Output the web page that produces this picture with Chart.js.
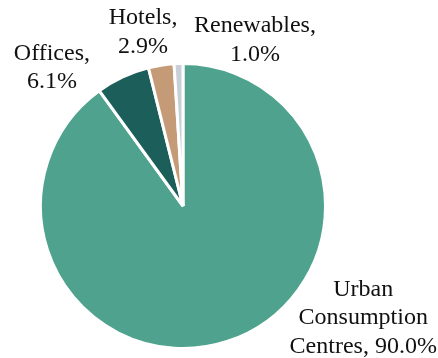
<!DOCTYPE html>
<html>
<head>
<meta charset="utf-8">
<script src="https://cdn.jsdelivr.net/npm/chart.js@4.4.0/dist/chart.umd.min.js"></script>
<style>
  html, body { margin: 0; padding: 0; background: #fff; }
  #wrap { width: 438px; height: 358px; }
</style>
</head>
<body>
<div id="wrap"><canvas id="pieChart" width="438" height="358"></canvas></div>
<script>
const categories = ["Urban Consumption Centres", "Offices", "Hotels", "Renewables"];
const shares = [90.0, 6.1, 2.9, 1.0];
const labelLines = [
  ["Urban", "Consumption", "Centres, 90.0%"],
  ["Offices,", "6.1%"],
  ["Hotels,", "2.9%"],
  ["Renewables,", "1.0%"]
];
const sliceColors = ["#4fa38e", "#1b5e5a", "#c49b76", "#c9cfd9"];

// label anchor offsets from pie centre, in units of the radius
const labelOffsets = [
  [1.265, 0.585],
  [-0.92, -1.07],
  [-0.28, -1.32],
  [0.505, -1.265]
];

const outsideLabels = {
  id: "outsideLabels",
  afterDraw(chart) {
    const arcs = chart.getDatasetMeta(0).data;
    if (!arcs.length) return;
    const cx = arcs[0].x, cy = arcs[0].y, r = arcs[0].outerRadius;
    const ctx = chart.ctx;
    ctx.save();
    ctx.font = '24px "Liberation Serif", "Times New Roman", serif';
    ctx.fillStyle = "#111";
    ctx.textAlign = "center";
    ctx.textBaseline = "middle";
    const lh = 28.5;
    labelLines.forEach((lines, i) => {
      const x = cx + labelOffsets[i][0] * r;
      const y0 = cy + labelOffsets[i][1] * r;
      lines.forEach((t, j) => ctx.fillText(t, x, y0 + j * lh));
    });
    ctx.restore();
  }
};

new Chart(document.getElementById("pieChart").getContext("2d"), {
  type: "pie",
  data: {
    labels: categories,
    datasets: [{
      data: shares,
      backgroundColor: sliceColors,
      borderColor: "#ffffff",
      borderWidth: 3
    }]
  },
  options: {
    responsive: false,
    animation: false,
    layout: { padding: { left: 39, right: 111, top: 62, bottom: 8 } },
    plugins: {
      legend: { display: false },
      tooltip: { enabled: false }
    }
  },
  plugins: [outsideLabels]
});
</script>
</body>
</html>
